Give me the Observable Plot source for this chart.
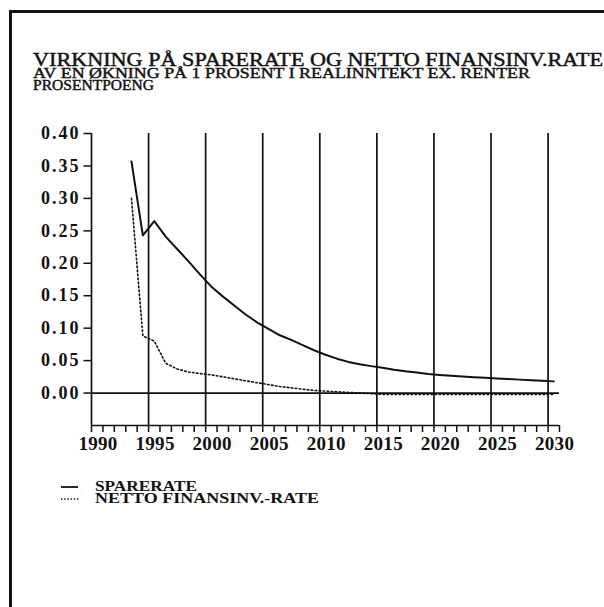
<!DOCTYPE html>
<html><head><meta charset="utf-8">
<script src="https://cdn.jsdelivr.net/npm/d3@7"></script>
<script src="https://cdn.jsdelivr.net/npm/@observablehq/plot@0.6"></script>
<style>
body{margin:0;background:#fff;}
#wrap{position:relative;width:604px;height:607px;overflow:hidden;background:#fff;}
#frame{position:absolute;left:9px;top:10px;width:700px;height:700px;border-left:3px solid #111;border-top:3px solid #111;}
#chart{position:absolute;left:0;top:0;}
</style></head><body><div id="wrap"><div id="frame"></div><div id="chart"></div></div>
<script>
// ---- data ----
const years = d3.range(1993, 2031);
const sparerate = [0.357,0.243,0.265,0.241,0.222,0.203,0.183,0.164,0.149,0.135,0.121,0.109,0.099,0.089,0.082,0.074,0.066,0.059,0.053,0.048,0.0445,0.0415,0.039,0.036,0.0335,0.0315,0.0295,0.028,0.0268,0.0256,0.0245,0.0235,0.0224,0.0216,0.0207,0.0198,0.019,0.018];
const nettoFinans = [0.300,0.088,0.080,0.046,0.037,0.0325,0.030,0.028,0.025,0.022,0.019,0.016,0.013,0.010,0.008,0.006,0.004,0.003,0.002,0.001,0.000,-0.001,-0.002,-0.002,-0.002,-0.002,-0.002,-0.002,-0.002,-0.002,-0.002,-0.002,-0.002,-0.002,-0.002,-0.002,-0.002,-0.002];
const xLabelYears = [1990,1995,2000,2005,2010,2015,2020,2025,2030];
const xMinorYears = d3.range(1990, 2032);
const gridYears = [1995,2000,2005,2010,2015,2020,2025,2030];
const yTicks = [0,0.05,0.10,0.15,0.20,0.25,0.30,0.35,0.40];
const titleText = "VIRKNING PÅ SPARERATE OG NETTO FINANSINV.RATE";
const subtitleText = "AV EN ØKNING PÅ 1 PROSENT I REALINNTEKT EX. RENTER";
const unitText = "PROSENTPOENG";
const legendLabels = ["SPARERATE", "NETTO FINANSINV.-RATE"];

const rows = years.map((yr, i) => ({t: yr + 0.5, s: sparerate[i], n: nettoFinans[i]}));
const font = "'Liberation Serif', 'Times New Roman', serif";
const ink = "#111";

const plot = Plot.plot({
  width: 604, height: 607,
  marginLeft: 91, marginRight: 45, marginTop: 133, marginBottom: 182,
  x: {domain: [1990, 2031], label: null},
  y: {domain: [-0.05, 0.40], label: null},
  style: {background: "transparent", color: ink, fontFamily: font, overflow: "visible"},
  marks: [
    Plot.ruleX(gridYears, {stroke: ink, strokeWidth: 1.7}),
    Plot.ruleX([1990], {stroke: ink, strokeWidth: 1.7}),
    Plot.ruleY([0], {x1: 1990, x2: 2031, stroke: ink, strokeWidth: 1.7}),
    Plot.ruleY([-0.05], {x1: 1990, x2: 2031, stroke: ink, strokeWidth: 1.7}),
    Plot.axisX({ticks: xMinorYears, tickSize: 7, tickFormat: () => "", strokeWidth: 1.5, label: null}),
    Plot.axisX({ticks: xLabelYears, tickSize: 0, tickPadding: 11, tickFormat: d => String(d), dx: 6.5,
      fontSize: 19, fontWeight: "bold", fontFamily: font, label: null}),
    Plot.axisY({ticks: yTicks, tickSize: 7.5, tickPadding: 3.5, tickFormat: d3.format(".2f"),
      fontSize: 18, fontWeight: "bold", fontFamily: font, strokeWidth: 1.5, label: null}),
    Plot.line(rows, {x: "t", y: "s", stroke: ink, strokeWidth: 2}),
    Plot.line(rows, {x: "t", y: "n", stroke: ink, strokeWidth: 1.6, strokeDasharray: "1.6,2.4"})
  ]
});
document.getElementById("chart").appendChild(plot);
const svg = d3.select(plot);
svg.selectAll('g[aria-label="y-axis tick label"] text').attr("letter-spacing", "2");
svg.selectAll('g[aria-label="x-axis tick label"] text').attr("letter-spacing", "0.3");

// titles
const tg = svg.append("g").attr("font-family", font).attr("fill", ink).attr("text-anchor", "start")
  .attr("stroke", ink).attr("stroke-width", 0.45);
tg.append("text").attr("x", 33).attr("y", 66).attr("font-size", 19.5)
  .attr("textLength", 570).attr("lengthAdjust", "spacingAndGlyphs").text(titleText);
tg.append("text").attr("x", 33).attr("y", 78).attr("font-size", 15.5)
  .attr("textLength", 497).attr("lengthAdjust", "spacingAndGlyphs").text(subtitleText);
tg.append("text").attr("x", 33).attr("y", 89.5).attr("font-size", 15.5)
  .attr("textLength", 121).attr("lengthAdjust", "spacingAndGlyphs").text(unitText);

// legend
const lg = svg.append("g").attr("font-family", font).attr("fill", ink).attr("text-anchor", "start");
lg.append("line").attr("x1", 61).attr("x2", 78).attr("y1", 487).attr("y2", 487).attr("stroke", ink).attr("stroke-width", 1.8);
lg.append("line").attr("x1", 61).attr("x2", 79).attr("y1", 499).attr("y2", 499).attr("stroke", ink).attr("stroke-width", 1.4).attr("stroke-dasharray", "1.4,1.8");
lg.append("text").attr("x", 95).attr("y", 491).attr("font-size", 15.5).attr("font-weight", "bold")
  .attr("textLength", 102).attr("lengthAdjust", "spacingAndGlyphs").text(legendLabels[0]);
lg.append("text").attr("x", 95).attr("y", 503).attr("font-size", 15.5).attr("font-weight", "bold")
  .attr("textLength", 224).attr("lengthAdjust", "spacingAndGlyphs").text(legendLabels[1]);
</script></body></html>
